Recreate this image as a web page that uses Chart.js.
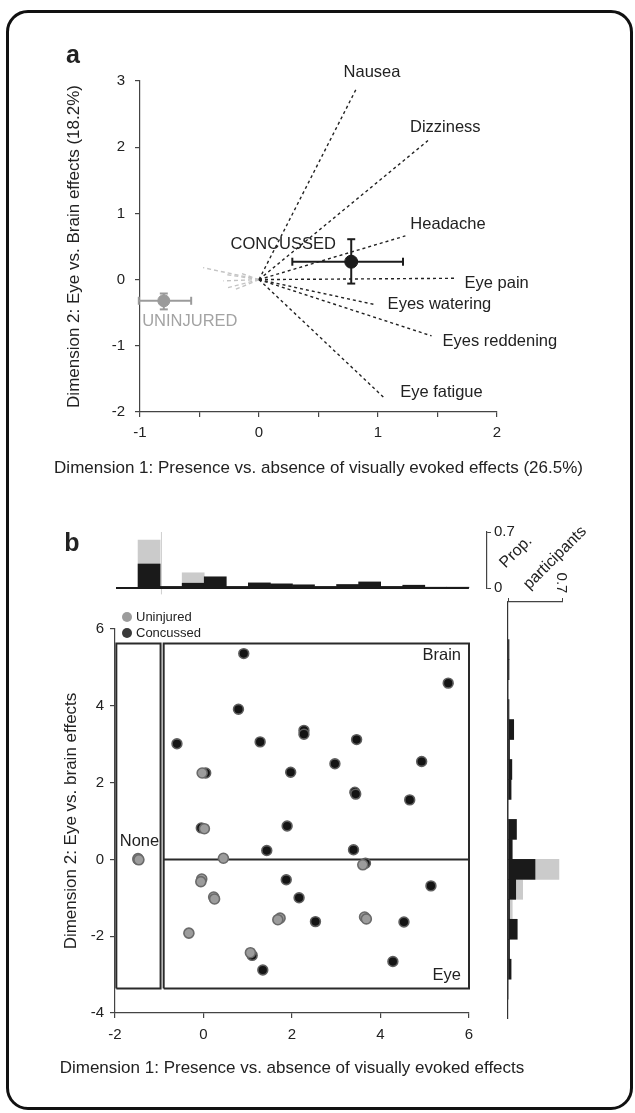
<!DOCTYPE html>
<html>
<head>
<meta charset="utf-8">
<script src="https://cdn.jsdelivr.net/npm/chart.js@4.4.1/dist/chart.umd.min.js"></script>
<style>
  html, body { margin: 0; padding: 0; background: #fff; }
  #page { position: relative; width: 635px; height: 1113px; overflow: hidden; }
  #frame { position: absolute; left: 6px; top: 10px; width: 627px; height: 1100px;
           box-sizing: border-box; border: 3px solid #111; border-radius: 22px; }
  canvas { position: absolute; }
</style>
</head>
<body>
<div id="page">
  <div id="frame"></div>
  <canvas id="chartA" width="635" height="500" style="left:0;top:0"></canvas>
  <canvas id="histTop" width="635" height="100" style="left:0;top:500px"></canvas>
  <canvas id="chartB" width="635" height="513" style="left:0;top:600px"></canvas>
  <canvas id="histRight" width="155" height="470" style="left:480px;top:560px"></canvas>
</div>
<script>
// ---- panel a data ----
const symptoms = ['Nausea', 'Dizziness', 'Headache', 'Eye pain', 'Eyes watering', 'Eyes reddening', 'Eye fatigue'];
const symptomX = [0.82, 1.42, 1.23, 1.66, 0.98, 1.45, 1.06];
const symptomY = [2.89, 2.10, 0.66, 0.02, -0.38, -0.85, -1.80];
const greyVecX = [-0.47, -0.29, -0.30, -0.28, -0.20, -0.16];
const greyVecY = [0.18, 0.08, -0.02, -0.13, -0.15, 0.10];
const groupNames = ['CONCUSSED', 'UNINJURED'];
const groupMean = [[0.775, 0.27], [-0.80, -0.32]];
const groupXErr = [[0.28, 1.21], [-1.01, -0.57]];
const groupYErr = [[-0.06, 0.61], [-0.45, -0.21]];

// ---- panel b data ----
const concussedX = [0.91, 0.79, -0.60, 1.28, 2.27, 2.27, 0.05, 1.97, 2.97, 3.46, 5.53, 4.93, 3.42, 3.44, 4.66,
  1.89, 3.39, 1.43, 3.66, 1.87, 5.14, 2.16, 2.53, 4.53, 4.28, 1.34, 1.10, -0.05, -1.48];
const concussedY = [5.36, 3.91, 3.01, 3.06, 3.36, 3.26, 2.25, 2.27, 2.49, 3.12, 4.59, 2.55, 1.75, 1.70, 1.55,
  0.87, 0.25, 0.23, -0.10, -0.53, -0.69, -1.00, -1.62, -1.63, -2.66, -2.88, -2.50, 0.82, 0.00];
const uninjuredX = [-0.03, 0.02, -1.48, -1.46, 0.45, -0.04, -0.06, 0.23, 0.25, 1.73, 1.68, 3.64, 3.68, -0.33, 1.06, 3.60];
const uninjuredY = [2.25, 0.80, 0.02, -0.01, 0.03, -0.51, -0.58, -0.98, -1.03, -1.53, -1.57, -1.50, -1.55, -1.92, -2.43, -0.14];
const regionX = [-1.97, -0.97, -0.90, 6.0];   // None box | Eye/Brain box
const regionY = [-3.36, 5.62];

const topBins = [-1.75, -1.25, -0.75, -0.25, 0.25, 0.75, 1.25, 1.75, 2.25, 2.75, 3.25, 3.75, 4.25, 4.75, 5.25, 5.75];
const topConcussed = [0, 0.30, 0.02, 0.06, 0.14, 0.02, 0.064, 0.052, 0.04, 0.02, 0.044, 0.076, 0.02, 0.035, 0.01, 0.01];
const topUninjured = [0, 0.60, 0, 0.19, 0, 0, 0, 0, 0, 0, 0, 0, 0, 0, 0, 0];
const topTicks = [0, 0.7];

const rightBins = [5.46, 4.94, 4.42, 3.90, 3.38, 2.86, 2.34, 1.82, 1.30, 0.78, 0.26,
  -0.26, -0.78, -1.30, -1.82, -2.34, -2.86, -3.38];
const rightConcussed = [0.013, 0.013, 0, 0.013, 0.074, 0.02, 0.05, 0.04, 0, 0.11, 0.055,
  0.35, 0.10, 0.02, 0.12, 0.02, 0.04, 0];
const rightUninjured = [0, 0, 0, 0, 0, 0, 0, 0, 0, 0, 0, 0.66, 0.19, 0.055, 0, 0, 0, 0];

// ---- styles ----
const FONT = "'Liberation Sans', Arial, Helvetica, sans-serif";
const AXIS = '#444';
const INK = '#222';
const symptomLabelOffset = [[-13, -16], [-18, -13], [5, -11], [8, 5], [12, 0], [11, 6], [15, -6]];
const groupLabelOffset = [[-68, -17], [26, 21]];
const groupColor = ['#1c1c1c', '#9b9b9b'];
const groupTextColor = ['#222', '#a3a3a3'];

Chart.defaults.font.family = FONT;
Chart.defaults.color = INK;
Chart.defaults.animation = false;
Chart.defaults.events = [];
Chart.defaults.plugins.legend.display = false;
Chart.defaults.plugins.tooltip.enabled = false;

const fixW = w => s => { s.width = w; };
const fixH = h => s => { s.height = h; };
const pts = (xs, ys) => xs.map((x, i) => ({ x, y: ys[i] }));

function seg(data, color, width, dash, order, extra) {
  return Object.assign({
    data, showLine: true, borderColor: color, borderWidth: width, borderDash: dash,
    pointRadius: 0, fill: false, tension: 0, clip: false, order, borderJoinStyle: 'miter'
  }, extra || {});
}

function textLayer(id, draw) {
  return { id, afterDraw(chart) { const ctx = chart.ctx; ctx.save(); draw(ctx, chart); ctx.restore(); } };
}

// x-axis title centred under the plot, not squeezed into the axis width
function xTitle(ctx, chart, text, py) {
  const ca = chart.chartArea;
  ctx.font = '17px ' + FONT;
  ctx.fillStyle = INK;
  ctx.textAlign = 'center';
  ctx.textBaseline = 'middle';
  ctx.fillText(text, (ca.left + ca.right) / 2, py);
}

// ---------------- panel a ----------------
const aSets = [];
groupNames.forEach((g, i) => {
  aSets.push({ data: [{ x: groupMean[i][0], y: groupMean[i][1] }], pointRadius: i === 0 ? 6.5 : 6,
    pointBackgroundColor: groupColor[i], pointBorderColor: groupColor[i], order: 0 });
  const my = groupMean[i][1], mx = groupMean[i][0];
  aSets.push(seg([{ x: groupXErr[i][0], y: my }, { x: groupXErr[i][1], y: my }], groupColor[i], 2, [], 1,
    { pointRadius: 4, pointStyle: 'line', pointRotation: 90, pointBorderColor: groupColor[i], pointBorderWidth: 2 }));
  aSets.push(seg([{ x: mx, y: groupYErr[i][0] }, { x: mx, y: groupYErr[i][1] }], groupColor[i], 2, [], 1,
    { pointRadius: 4, pointStyle: 'line', pointRotation: 0, pointBorderColor: groupColor[i], pointBorderWidth: 2 }));
});
symptoms.forEach((s, i) => {
  aSets.push(seg([{ x: 0, y: 0 }, { x: symptomX[i], y: symptomY[i] }], '#222', 1.4, [3, 3], 2));
});
greyVecX.forEach((gx, i) => {
  aSets.push(seg([{ x: 0, y: 0 }, { x: gx, y: greyVecY[i] }], '#c4c4c4', 1.4, [4, 3], 3));
});

new Chart('chartA', {
  type: 'scatter',
  data: { datasets: aSets },
  options: {
    responsive: false, devicePixelRatio: 1,
    layout: { padding: { left: 0, top: 81, right: 138, bottom: 0 } },
    scales: {
      x: {
        type: 'linear', min: -1, max: 2, afterFit: fixH(88),
        ticks: { stepSize: 0.5, autoSkip: false, maxRotation: 0, padding: 7, font: { size: 15 },
          callback: v => Number.isInteger(v) ? String(v) : '' },
        grid: { drawOnChartArea: false, tickLength: 5, color: AXIS, lineWidth: 1.2 },
        border: { color: AXIS, width: 1.2 }
      },
      y: {
        type: 'linear', min: -2, max: 3, afterFit: fixW(140),
        ticks: { stepSize: 1, padding: 10, font: { size: 15 } },
        grid: { drawOnChartArea: false, tickLength: 5, color: AXIS, lineWidth: 1.2 },
        border: { color: AXIS, width: 1.2 },
        title: { display: true, text: 'Dimension 2: Eye vs. Brain effects (18.2%)',
          font: { size: 17 }, padding: { top: 64, bottom: 0 } }
      }
    }
  },
  plugins: [textLayer('aText', (ctx, chart) => {
    const { x, y } = chart.scales;
    xTitle(ctx, chart, 'Dimension 1: Presence vs. absence of visually evoked effects (26.5%)', 468);
    ctx.textBaseline = 'middle';
    ctx.fillStyle = INK;
    ctx.font = 'bold 25px ' + FONT;
    ctx.textAlign = 'center';
    ctx.fillText('a', 73, 56);
    ctx.font = '16.5px ' + FONT;
    ctx.textAlign = 'left';
    symptoms.forEach((s, i) => {
      ctx.fillText(s, x.getPixelForValue(symptomX[i]) + symptomLabelOffset[i][0],
        y.getPixelForValue(symptomY[i]) + symptomLabelOffset[i][1]);
    });
    ctx.textAlign = 'center';
    groupNames.forEach((g, i) => {
      ctx.fillStyle = groupTextColor[i];
      ctx.fillText(g, x.getPixelForValue(groupMean[i][0]) + groupLabelOffset[i][0],
        y.getPixelForValue(groupMean[i][1]) + groupLabelOffset[i][1]);
    });
  })]
});

// ---------------- panel b: top histogram ----------------
new Chart('histTop', {
  type: 'bar',
  data: {
    datasets: [
      { data: pts(topBins, topConcussed), backgroundColor: '#1a1a1a', grouped: false,
        barPercentage: 1, categoryPercentage: 1, order: 1 },
      { data: pts(topBins, topUninjured), backgroundColor: '#cbcbcb', grouped: false,
        barPercentage: 1, categoryPercentage: 1, order: 2 },
      seg([{ x: -2, y: 0 }, { x: 6, y: 0 }], '#1a1a1a', 2, [], 0, { type: 'line' }),
      seg([{ x: regionX[1], y: -0.08 }, { x: regionX[1], y: 0.7 }], '#cfcfcf', 1, [], 3, { type: 'line' })
    ]
  },
  options: {
    responsive: false, devicePixelRatio: 1,
    layout: { padding: { left: 116, right: 0, top: 32, bottom: 10 } },
    scales: {
      x: { type: 'linear', display: false, min: -2, max: 6.41, offset: false, grid: { offset: false } },
      y: {
        position: 'right', min: 0, max: 0.7, afterFit: fixW(148),
        afterBuildTicks: s => { s.ticks = topTicks.map(v => ({ value: v })); },
        ticks: { padding: 3, font: { size: 15 } },
        grid: { drawOnChartArea: false, tickLength: 4, color: AXIS },
        border: { color: AXIS, width: 1.2 }
      }
    }
  },
  plugins: [textLayer('topText', ctx => {
    ctx.fillStyle = INK;
    ctx.textBaseline = 'middle';
    ctx.textAlign = 'center';
    ctx.font = 'bold 25px ' + FONT;
    ctx.fillText('b', 72, 44);
    ctx.font = '16px ' + FONT;
    ctx.translate(516, 52);
    ctx.rotate(-Math.PI / 4);
    ctx.fillText('Prop.', 0, 0);
    ctx.rotate(Math.PI / 4);
    ctx.translate(39, 6);
    ctx.rotate(-Math.PI / 4);
    ctx.fillText('participants', 0, 0);
  })]
});

// ---------------- panel b: scatter ----------------
function rect(x0, x1) {
  return [{ x: x0, y: regionY[0] }, { x: x0, y: regionY[1] }, { x: x1, y: regionY[1] },
    { x: x1, y: regionY[0] }, { x: x0, y: regionY[0] }];
}

new Chart('chartB', {
  type: 'scatter',
  data: {
    datasets: [
      { label: 'Uninjured', data: pts(uninjuredX, uninjuredY), pointRadius: 5, pointBorderWidth: 1.6,
        pointBackgroundColor: '#9c9c9c', pointBorderColor: '#6a6a6a', order: 0 },
      { label: 'Concussed', data: pts(concussedX, concussedY), pointRadius: 4.9, pointBorderWidth: 1.6,
        pointBackgroundColor: '#141414', pointBorderColor: '#5e5e5e', order: 1 },
      seg(rect(regionX[0], regionX[1]), '#2a2a2a', 2, [], 2),
      seg(rect(regionX[2], regionX[3]), '#2a2a2a', 2, [], 2),
      seg([{ x: regionX[2], y: 0 }, { x: regionX[3], y: 0 }], '#2a2a2a', 2, [], 2)
    ]
  },
  options: {
    responsive: false, devicePixelRatio: 1,
    layout: { padding: { left: 0, top: 29, right: 166, bottom: 0 } },
    scales: {
      x: {
        type: 'linear', min: -2, max: 6, afterFit: fixH(100),
        ticks: { stepSize: 2, padding: 8, font: { size: 15 }, maxRotation: 0 },
        grid: { drawOnChartArea: false, tickLength: 5, color: AXIS, lineWidth: 1.2 },
        border: { color: AXIS, width: 1.2 }
      },
      y: {
        type: 'linear', min: -4, max: 6, afterFit: fixW(115),
        ticks: { stepSize: 2, padding: 6, font: { size: 15 } },
        grid: { drawOnChartArea: false, tickLength: 5, color: AXIS, lineWidth: 1.2 },
        border: { color: AXIS, width: 1.2 },
        title: { display: true, text: 'Dimension 2: Eye vs. brain effects',
          font: { size: 17 }, padding: { top: 61, bottom: 0 } }
      }
    }
  },
  plugins: [textLayer('bText', (ctx, chart) => {
    const { x, y } = chart.scales;
    xTitle(ctx, chart, 'Dimension 1: Presence vs. absence of visually evoked effects', 468);
    ctx.textBaseline = 'middle';
    // legend
    const leg = [['Uninjured', '#9c9c9c', 17], ['Concussed', '#3a3a3a', 33]];
    ctx.font = '13px ' + FONT;
    ctx.textAlign = 'left';
    leg.forEach(([t, c, ly]) => {
      ctx.beginPath();
      ctx.arc(127, ly, 5, 0, Math.PI * 2);
      ctx.fillStyle = c;
      ctx.fill();
      ctx.fillStyle = INK;
      ctx.fillText(t, 136, ly + 0.5);
    });
    // region labels
    ctx.font = '16.5px ' + FONT;
    ctx.fillStyle = INK;
    ctx.textAlign = 'right';
    ctx.fillText('Brain', x.getPixelForValue(regionX[3]) - 8, y.getPixelForValue(regionY[1]) + 12);
    ctx.fillText('Eye', x.getPixelForValue(regionX[3]) - 8, y.getPixelForValue(regionY[0]) - 13);
    ctx.textAlign = 'center';
    ctx.fillText('None', (x.getPixelForValue(regionX[0]) + x.getPixelForValue(regionX[1])) / 2 + 1,
      y.getPixelForValue(0) - 18);
  })]
});

// ---------------- panel b: right histogram ----------------
new Chart('histRight', {
  type: 'bar',
  data: {
    datasets: [
      { data: rightBins.map((b, i) => ({ x: rightConcussed[i], y: b })), backgroundColor: '#1a1a1a',
        grouped: false, barPercentage: 1, categoryPercentage: 1, order: 1 },
      { data: rightBins.map((b, i) => ({ x: rightUninjured[i], y: b })), backgroundColor: '#cbcbcb',
        grouped: false, barPercentage: 1, categoryPercentage: 1, order: 2 }
    ]
  },
  options: {
    responsive: false, devicePixelRatio: 1, indexAxis: 'y',
    layout: { padding: { left: 28, right: 73, top: 0, bottom: 12 } },
    scales: {
      y: {
        type: 'linear', min: -4.13, max: 6.70, offset: false, afterFit: fixW(0),
        ticks: { display: false }, grid: { display: false, offset: false },
        border: { display: true, color: '#333', width: 1.2 }
      },
      x: {
        type: 'linear', position: 'top', min: 0, max: 0.7, afterFit: fixH(42),
        afterBuildTicks: s => { s.ticks = topTicks.map(v => ({ value: v })); },
        ticks: { display: false },
        grid: { drawOnChartArea: false, tickLength: 4, color: AXIS },
        border: { color: AXIS, width: 1.2 }
      }
    }
  },
  plugins: [textLayer('rightText', (ctx, chart) => {
    const { x } = chart.scales;
    ctx.fillStyle = INK;
    ctx.font = '15px ' + FONT;
    ctx.textAlign = 'center';
    ctx.textBaseline = 'middle';
    ctx.translate(x.getPixelForValue(topTicks[1]) - 1, chart.chartArea.top - 19);
    ctx.rotate(Math.PI / 2);
    ctx.fillText(String(topTicks[1]), 0, 0);
  })]
});
</script>
</body>
</html>
